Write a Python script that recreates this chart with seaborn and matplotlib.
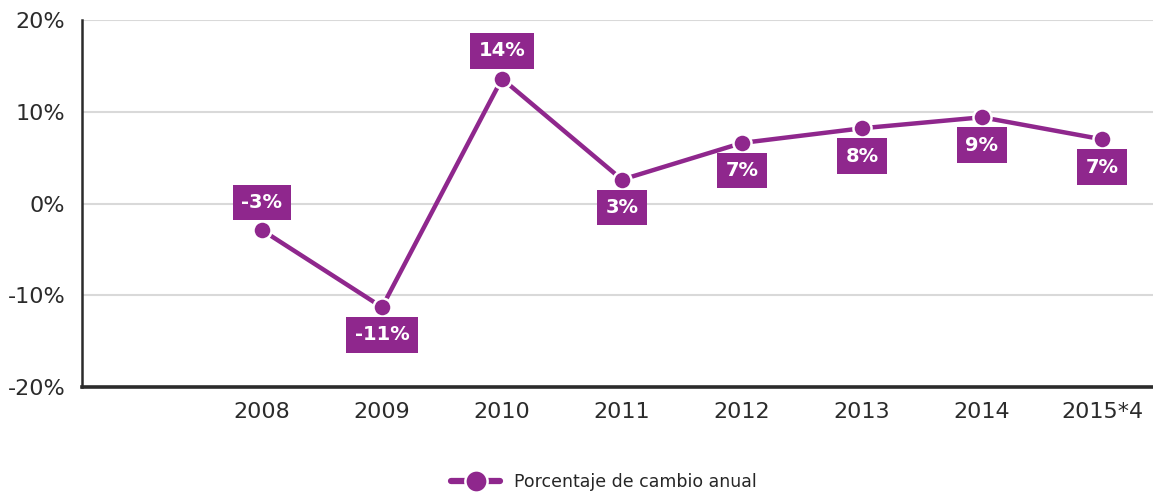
import matplotlib
matplotlib.use("Agg")
import matplotlib.pyplot as plt
from matplotlib.lines import Line2D
import pandas as pd
import seaborn as sns

# Chart data
categories = ["", "2008", "2009", "2010", "2011", "2012", "2013", "2014", "2015*4"]
years = ["2008", "2009", "2010", "2011", "2012", "2013", "2014", "2015*4"]
change_pct = [-2.9, -11.3, 13.6, 2.6, 6.6, 8.2, 9.4, 7.0]
point_labels = ["-3%", "-11%", "14%", "3%", "7%", "8%", "9%", "7%"]
y_ticks = [-20, -10, 0, 10, 20]
legend_label = "Porcentaje de cambio anual"

PURPLE = "#8F278D"
DARK = "#2B2B2B"

sns.set_style("white")
plt.rcParams["font.family"] = ["DejaVu Sans"]

df = pd.DataFrame({"year": years, "change": change_pct})

W, H = 1153, 493
fig = plt.figure(figsize=(W / 100, H / 100), dpi=100)
ax = fig.add_axes([82 / W, 1 - 387 / H, 1 - 82 / W, (387 - 20) / H])

sns.pointplot(data=df, x="year", y="change", order=categories, color=PURPLE,
              errorbar=None, ax=ax, linewidth=3.2, markersize=13,
              markeredgecolor="white", markeredgewidth=1.8)

# value boxes: above the point for 2008 and 2010, below for the rest
above = {"2008", "2010"}
for yr, val, lab in zip(years, change_pct, point_labels):
    xpos = categories.index(yr)
    dy = 20 if yr in above else -20
    ax.annotate(lab, xy=(xpos, val), xytext=(0, dy), textcoords="offset points",
                ha="center", va="center", fontsize=14, fontweight="bold",
                color="white", zorder=5,
                bbox=dict(boxstyle="square,pad=0.42", fc=PURPLE, ec="none"))

ax.set_ylim(-20, 20)
ax.set_yticks(y_ticks)
ax.set_yticklabels([f"{t}%" for t in y_ticks])
ax.set_xlim(-0.5, 8.425)
ax.set_xlabel("")
ax.set_ylabel("")

ax.yaxis.grid(True, color="#d9d9d9", linewidth=1.5)
ax.xaxis.grid(False)
ax.set_axisbelow(True)

for side in ["top", "right"]:
    ax.spines[side].set_visible(False)
ax.spines["left"].set_color(DARK)
ax.spines["left"].set_linewidth(1.8)
ax.spines["bottom"].set_color(DARK)
ax.spines["bottom"].set_linewidth(2.6)

ax.tick_params(axis="both", length=0, labelsize=16, labelcolor=DARK)
ax.tick_params(axis="x", pad=11)
ax.tick_params(axis="y", pad=12)

handle = Line2D([], [], color=PURPLE, lw=4.5, marker="o", markersize=16,
                markeredgecolor="white", markeredgewidth=1.8)
fig.legend(handles=[handle], labels=[legend_label], loc="center",
           bbox_to_anchor=(604 / W, 1 - 482 / H), frameon=False,
           fontsize=12.5, handlelength=2.8, handletextpad=0.8)

fig.savefig("out.png", dpi=100)
